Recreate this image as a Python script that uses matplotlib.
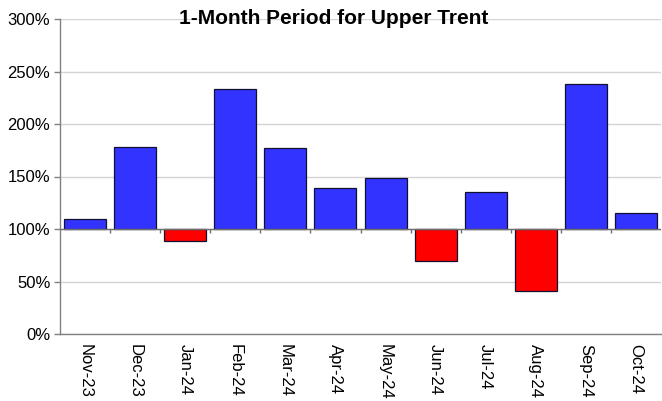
import matplotlib
matplotlib.use("Agg")
import matplotlib.pyplot as plt
import numpy as np

months = ["Nov-23", "Dec-23", "Jan-24", "Feb-24", "Mar-24", "Apr-24",
          "May-24", "Jun-24", "Jul-24", "Aug-24", "Sep-24", "Oct-24"]
values = [110, 178, 89, 233, 177, 139, 149, 70, 135, 41, 238, 115]
yticks = [0, 50, 100, 150, 200, 250, 300]
title = "1-Month Period for Upper Trent"
baseline = 100

plt.rcParams['font.family'] = ['Liberation Sans', 'DejaVu Sans']

fig = plt.figure(figsize=(6.62, 4.01), dpi=100)
ax = fig.add_axes([60/662, (401-334)/401, 601/662, (334-19)/401])

x = np.arange(len(months))
vals = np.array(values)
heights = vals - baseline
colors = ["#3333FF" if v >= baseline else "#FF0000" for v in vals]
ax.bar(x, heights, bottom=baseline, width=0.84, color=colors,
       edgecolor="#101030", linewidth=0.9, zorder=3)

ax.set_xlim(-0.5, len(months) - 0.5)
ax.set_ylim(0, 300)
ax.set_yticks(yticks)
ax.set_yticklabels([f"{t}%" for t in yticks], fontsize=12)
ax.yaxis.grid(True, color="#d4d4d4", linewidth=1.0, zorder=0)
ax.set_axisbelow(True)

ax.set_xticks(x)
ax.set_xticklabels(months, rotation=270, fontsize=12, va="top", ha="center")
ax.tick_params(axis="x", length=0, pad=7)
ax.tick_params(axis="y", length=4, color="#808080", width=1, pad=3)

for s in ["top", "right"]:
    ax.spines[s].set_visible(False)
for s in ["left", "bottom"]:
    ax.spines[s].set_color("#808080")
    ax.spines[s].set_linewidth(1.0)

# category axis crossing at 100%
ax.axhline(baseline, color="#707070", linewidth=1.0, zorder=4)
bounds = np.arange(len(months) - 1) + 0.5
ax.vlines(bounds, baseline - 3.8, baseline, color="#707070", linewidth=1.0, zorder=4)

fig.text(334/662, 1 - 19/401, title, ha="center", va="center",
         fontsize=15, fontweight="bold", zorder=10)

fig.savefig("out.png", dpi=100)
